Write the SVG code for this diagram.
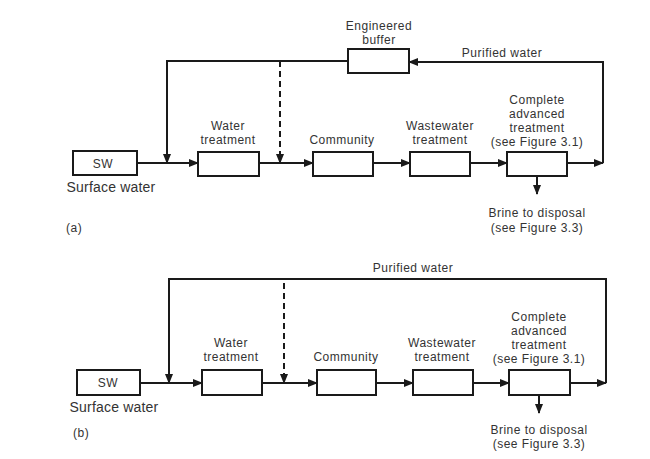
<svg xmlns="http://www.w3.org/2000/svg" width="650" height="459" viewBox="0 0 650 459">
<defs>
<marker id="ah" markerWidth="10" markerHeight="8" refX="9" refY="4" orient="auto" markerUnits="userSpaceOnUse">
<path d="M0,0 L10,4 L0,8 Z" fill="#1a1a1a"/>
</marker>
</defs>
<style>
.box{fill:#fff;stroke:#1a1a1a;stroke-width:2}
.ln{fill:none;stroke:#1a1a1a;stroke-width:2}
.ds{fill:none;stroke:#1a1a1a;stroke-width:2;stroke-dasharray:6,4}
text{font-family:"Liberation Sans",Arial,sans-serif;font-size:12px;letter-spacing:0.5px;fill:#333;text-anchor:middle}
.sw{font-size:14px;letter-spacing:0.2px}
.l{text-anchor:start}
</style>
<rect width="650" height="459" fill="#fff"/>

<g id="connectors">
<path class="ln" d="M137,163 L198,163" marker-end="url(#ah)"/>
<path class="ln" d="M348,61 L167,61 L167,163" marker-end="url(#ah)"/>
<path class="ds" d="M280,61 L280,163" marker-end="url(#ah)"/>
<path class="ln" d="M259,163 L313,163" marker-end="url(#ah)"/>
<path class="ln" d="M373,163 L410,163" marker-end="url(#ah)"/>
<path class="ln" d="M470,163 L507,163" marker-end="url(#ah)"/>
<path class="ln" d="M567,163 L603,163" marker-end="url(#ah)"/>
<path class="ln" d="M603,163 L603,62 L409,62" marker-end="url(#ah)"/>
<path class="ln" d="M537,176 L537,194" marker-end="url(#ah)"/>

<path class="ln" d="M140,383 L202,383" marker-end="url(#ah)"/>
<path class="ln" d="M606,383 L606,279 L169,279 L169,383" marker-end="url(#ah)"/>
<path class="ds" d="M284,283 L284,383" marker-end="url(#ah)"/>
<path class="ln" d="M262,383 L317,383" marker-end="url(#ah)"/>
<path class="ln" d="M376,383 L413,383" marker-end="url(#ah)"/>
<path class="ln" d="M473,383 L509,383" marker-end="url(#ah)"/>
<path class="ln" d="M570,383 L606,383" marker-end="url(#ah)"/>
<path class="ln" d="M539,395 L539,413" marker-end="url(#ah)"/>
</g>

<g id="a_sw"><rect class="box" x="73" y="151" width="64" height="24"/><text x="103" y="168">SW</text><text class="sw" x="111" y="192">Surface water</text></g>
<g id="a_wt"><rect class="box" x="198" y="152" width="61" height="24"/><text x="228" y="130">Water</text><text x="228" y="144">treatment</text></g>
<g id="a_com"><rect class="box" x="313" y="152" width="60" height="24"/><text x="342" y="144">Community</text></g>
<g id="a_wwt"><rect class="box" x="410" y="152" width="60" height="24"/><text x="440" y="130">Wastewater</text><text x="440" y="144">treatment</text></g>
<g id="a_adv"><rect class="box" x="507" y="152" width="60" height="24"/><text x="537" y="104">Complete</text><text x="537" y="118">advanced</text><text x="537" y="132">treatment</text><text x="537" y="146">(see Figure 3.1)</text></g>
<g id="a_buf"><rect class="box" x="348" y="49" width="61" height="24"/><text x="379" y="30">Engineered</text><text x="379" y="44">buffer</text></g>
<text x="502" y="57">Purified water</text>
<text x="537" y="217">Brine to disposal</text>
<text x="537" y="232">(see Figure 3.3)</text>
<text class="l" x="66" y="232">(a)</text>

<g id="b_sw"><rect class="box" x="77" y="370" width="63" height="25"/><text x="108" y="387">SW</text><text class="sw" x="114" y="412">Surface water</text></g>
<g id="b_wt"><rect class="box" x="202" y="370" width="60" height="25"/><text x="231" y="347">Water</text><text x="231" y="361">treatment</text></g>
<g id="b_com"><rect class="box" x="317" y="370" width="59" height="25"/><text x="346" y="361">Community</text></g>
<g id="b_wwt"><rect class="box" x="413" y="370" width="60" height="25"/><text x="442" y="347">Wastewater</text><text x="442" y="361">treatment</text></g>
<g id="b_adv"><rect class="box" x="509" y="370" width="61" height="25"/><text x="539" y="321">Complete</text><text x="539" y="335">advanced</text><text x="539" y="349">treatment</text><text x="539" y="363">(see Figure 3.1)</text></g>
<text x="413" y="272">Purified water</text>
<text x="539" y="434">Brine to disposal</text>
<text x="539" y="448">(see Figure 3.3)</text>
<text class="l" x="73" y="437">(b)</text>
</svg>
